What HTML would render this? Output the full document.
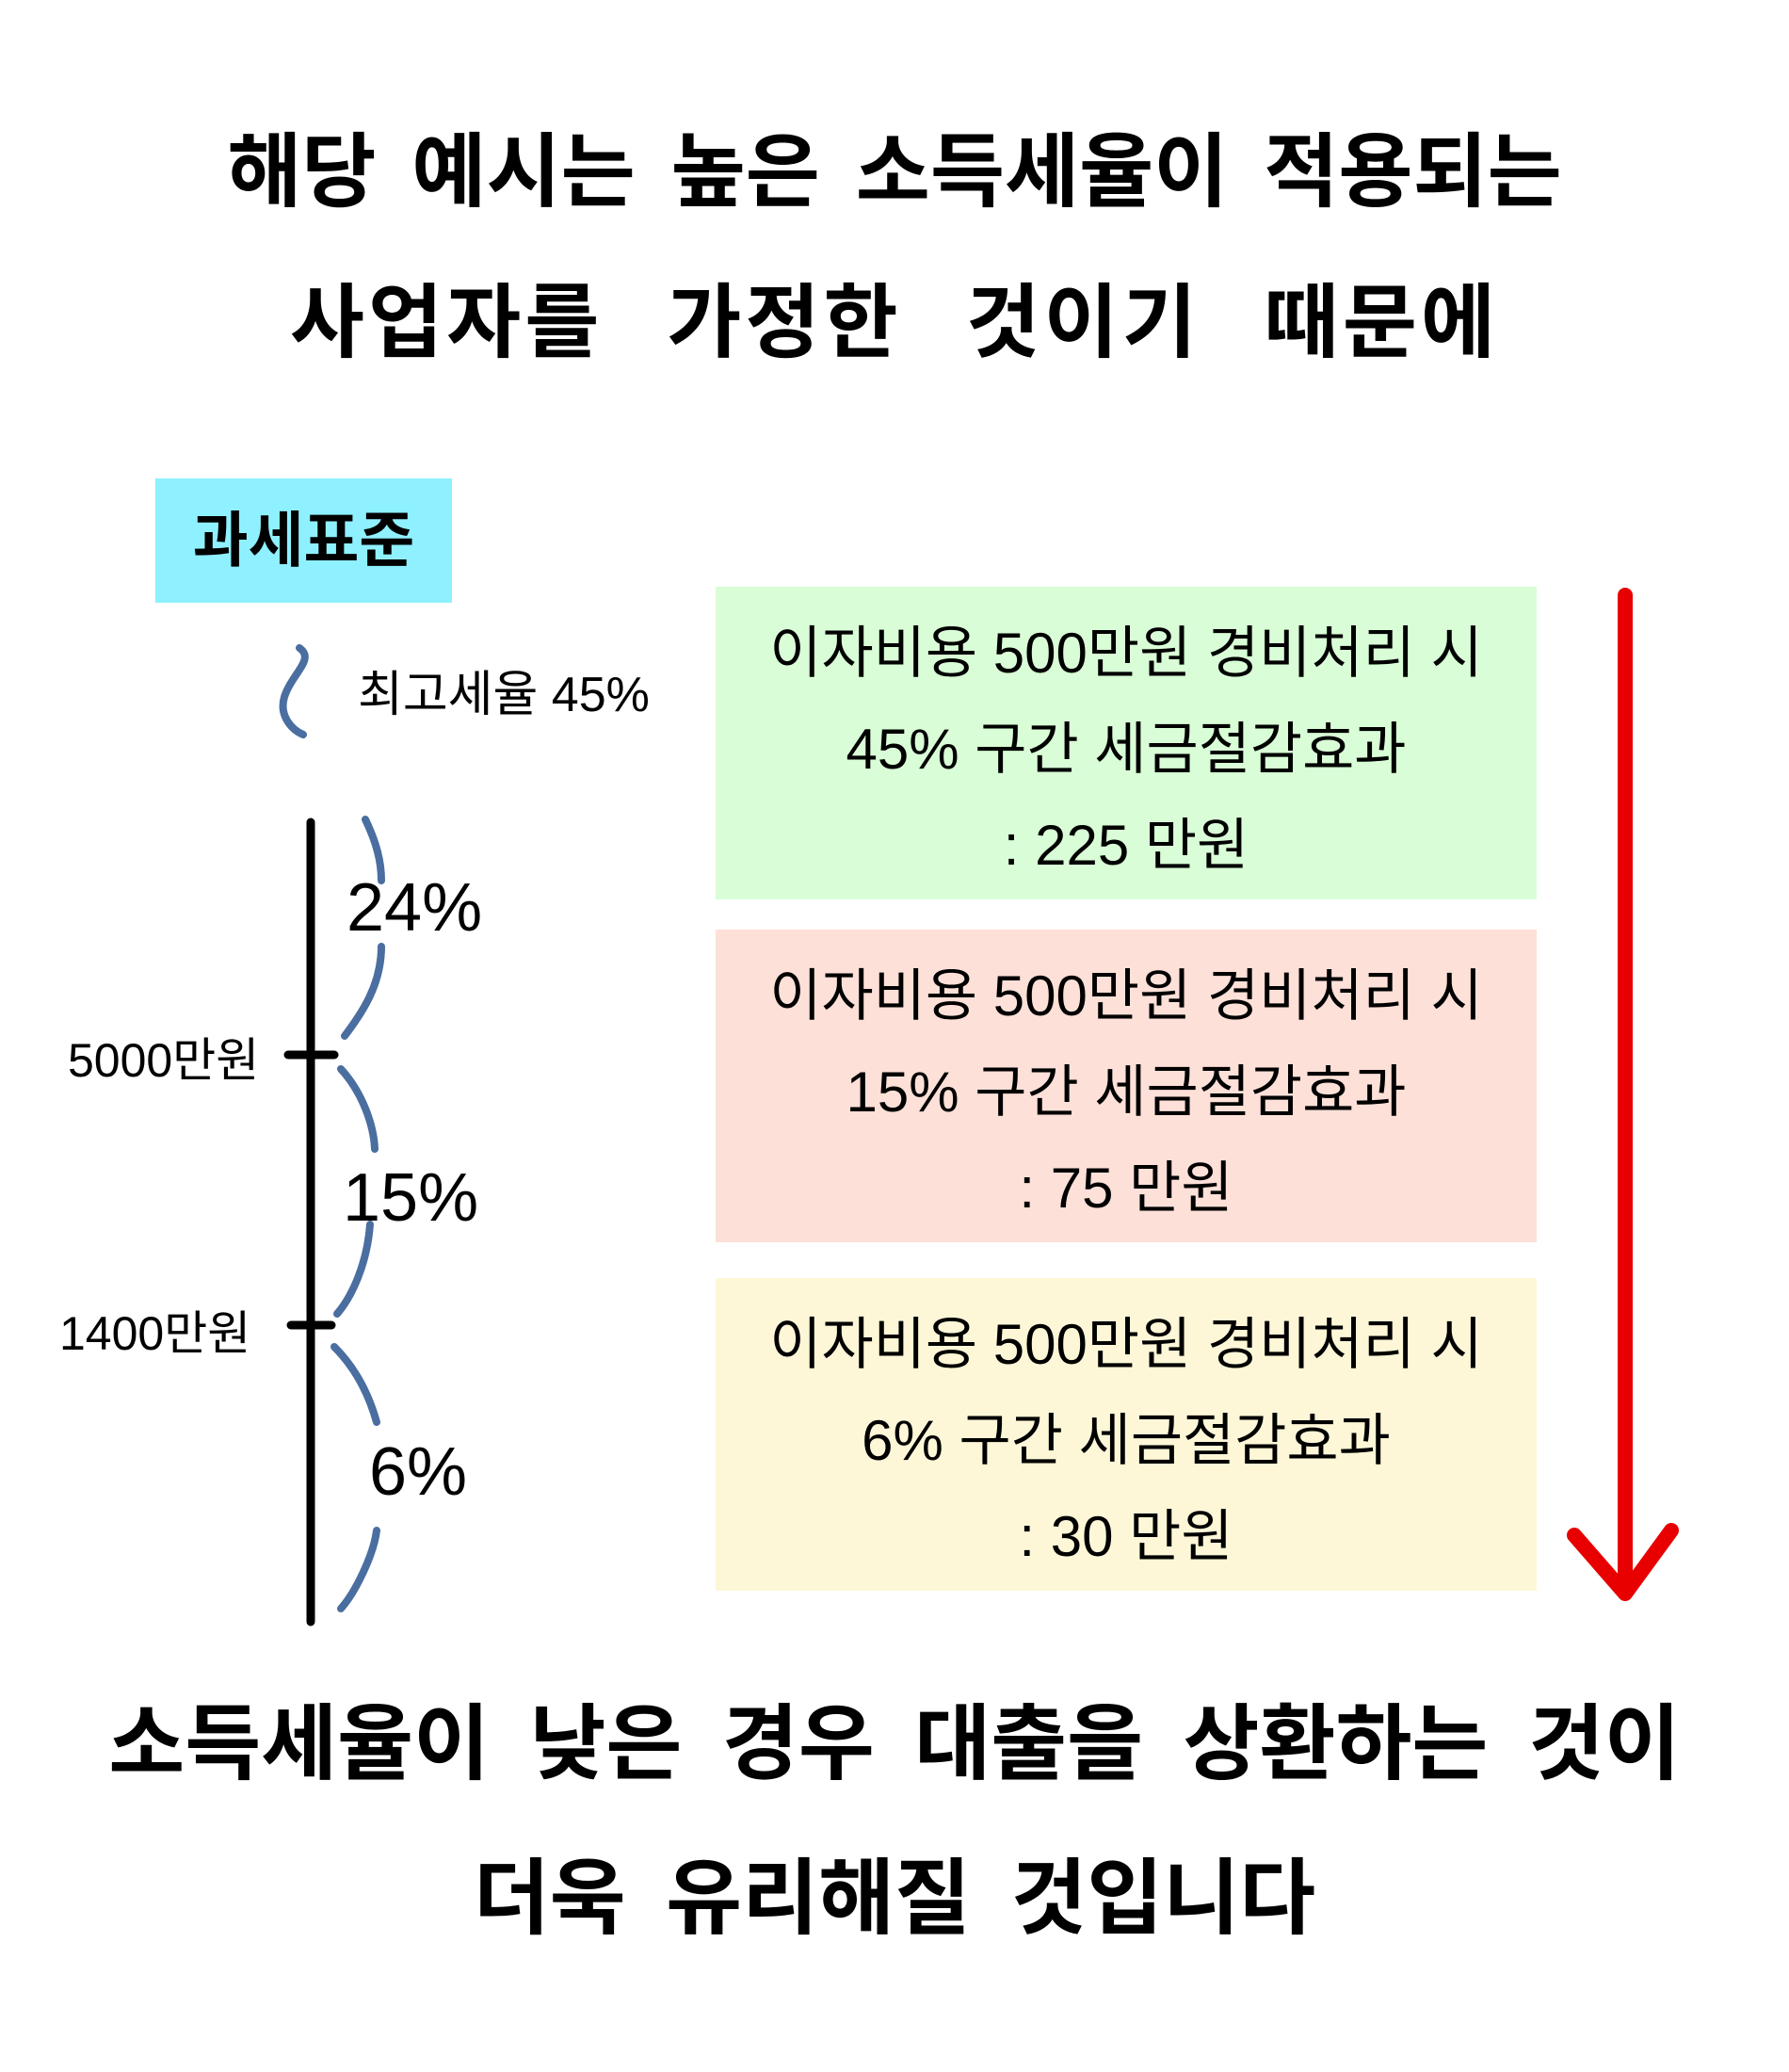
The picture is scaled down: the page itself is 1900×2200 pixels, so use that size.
<!DOCTYPE html>
<html><head><meta charset="utf-8"><style>
body{margin:0;width:1900px;height:2200px;background:#fff;position:relative;overflow:hidden;font-family:"Liberation Sans","Noto Sans CJK KR",sans-serif;color:#000}
.t{position:absolute;left:0;width:1900px;text-align:center;font-weight:bold;font-size:86px;letter-spacing:0px;word-spacing:14px;line-height:1;white-space:nowrap}
.box{position:absolute;left:760px;width:872px;height:332px;font-size:60px;text-align:center;line-height:102px;padding-top:20px;box-sizing:border-box;white-space:nowrap}
.lab{position:absolute;font-size:72px;line-height:1}
.sm{position:absolute;font-size:52px;line-height:1;white-space:nowrap}
</style></head><body>
<div class="t" style="top:140px">해당 예시는 높은 소득세율이 적용되는</div>
<div class="t" style="top:300px;word-spacing:40px;letter-spacing:4px">사업자를 가정한 것이기 때문에</div>

<div style="position:absolute;left:165px;top:508px;width:315px;height:132px;background:#8ff0ff;font-size:64px;line-height:132px;text-align:center;font-weight:bold">과세표준</div>

<div class="box" style="top:623px;background:#d9fdd6">이자비용 500만원 경비처리 시<br>45% 구간 세금절감효과<br>: 225 만원</div>
<div class="box" style="top:987px;background:#fde0d8">이자비용 500만원 경비처리 시<br>15% 구간 세금절감효과<br>: 75 만원</div>
<div class="box" style="top:1357px;background:#fdf7d8">이자비용 500만원 경비처리 시<br>6% 구간 세금절감효과<br>: 30 만원</div>

<svg style="position:absolute;left:0;top:0" width="1900" height="2200">
<g stroke="#e80000" stroke-width="16" fill="none" stroke-linecap="round" stroke-linejoin="round">
<line x1="1726" y1="632" x2="1726" y2="1690"/>
<polyline points="1672,1630 1726,1692 1775,1625"/>
</g>
<g stroke="#000" stroke-width="9" stroke-linecap="round">
<line x1="330" y1="873" x2="330" y2="1722"/>
<line x1="306" y1="1120" x2="355" y2="1120"/>
<line x1="309" y1="1407" x2="352" y2="1407"/>
</g>
<g stroke="#4a6ea0" stroke-width="8" fill="none" stroke-linecap="round">
<path d="M318,688 C335,700 310,715 302,740 C296,760 310,775 322,780"/>
<path d="M388,870 C400,895 405,915 405,935"/>
<path d="M405,1005 C405,1045 385,1075 366,1100"/>
<path d="M362,1135 C385,1160 397,1195 398,1220"/>
<path d="M393,1300 C390,1340 375,1375 358,1395"/>
<path d="M355,1430 C380,1455 393,1485 400,1510"/>
<path d="M400,1625 C397,1650 378,1690 362,1708"/>
</g>
</svg>

<div class="sm" style="left:380px;top:712px">최고세율 45%</div>
<div class="lab" style="left:368px;top:928px">24%</div>
<div class="lab" style="left:364px;top:1236px">15%</div>
<div class="lab" style="left:392px;top:1527px">6%</div>
<div class="sm" style="left:72px;top:1101px;font-size:50px">5000만원</div>
<div class="sm" style="left:63px;top:1391px;font-size:50px">1400만원</div>

<div class="t" style="top:1808px;font-size:88px;word-spacing:18px">소득세율이 낮은 경우 대출을 상환하는 것이</div>
<div class="t" style="top:1972px;font-size:88px;word-spacing:18px">더욱 유리해질 것입니다</div>
</body></html>
